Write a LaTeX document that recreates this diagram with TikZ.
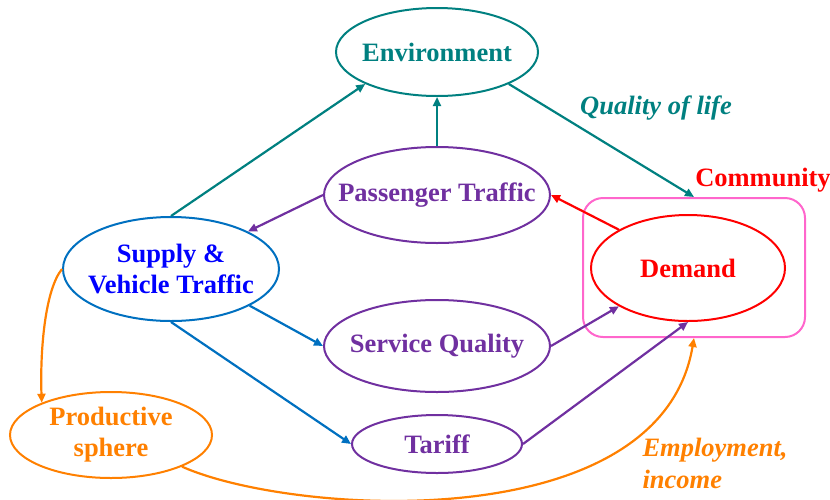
\documentclass[tikz,border=0pt]{standalone}
\usepackage{fontspec}
\setmainfont{Liberation Serif}
\usepackage{tikz}
\usetikzlibrary{shapes,arrows.meta}
\definecolor{envteal}{RGB}{0,128,128}
\definecolor{paxpurple}{RGB}{112,48,160}
\definecolor{supblue}{RGB}{0,112,192}
\definecolor{demred}{RGB}{255,0,0}
\definecolor{commpink}{RGB}{255,102,204}
\definecolor{prodorange}{RGB}{255,128,0}
\tikzstyle{bubble}=[ellipse, draw, line width=2pt, inner sep=0pt]
\tikzstyle{word}=[font=\fontsize{26.5}{31}\selectfont\bfseries, align=center, inner sep=0pt]
\tikzstyle{link}=[line width=2.2pt, -{Triangle[length=9pt,width=8pt]}]
\tikzstyle{tag}=[font=\fontsize{26.5}{32}\selectfont\bfseries\itshape, align=left]

\begin{document}
\begin{tikzpicture}[x=1pt,y=-1pt]
 \useasboundingbox (0,0) rectangle (830,499);
%
 \node[bubble, envteal, minimum width=202, minimum height=88,
  label={[word, envteal]center:Environment}] (env) at (437,52) {};
 \node[bubble, paxpurple, minimum width=226, minimum height=96,
  label={[word, paxpurple]center:Passenger Traffic}] (pax) at (437,195) {};
 \node[bubble, supblue, minimum width=216, minimum height=104,
  label={[word, blue]center:Supply \&\\Vehicle Traffic}] (sup) at (171,269) {};
 \node[bubble, paxpurple, minimum width=226, minimum height=92,
  label={[word, paxpurple]center:Service Quality}] (serv) at (437,346) {};
 \node[bubble, paxpurple, minimum width=170, minimum height=58,
  label={[word, paxpurple]center:Tariff}] (tar) at (437,444) {};
 \node[bubble, prodorange, minimum width=202, minimum height=86,
  label={[word, prodorange]center:Productive\\sphere}] (prod) at (111,435) {};
%
 \node[draw=commpink, line width=2pt, rounded corners=20pt, minimum width=222, minimum height=139] (comm) at (694,267.5) {};
 \node[bubble, demred, minimum width=194, minimum height=106,
  label={[word, demred]center:Demand}] (dem) at (688,268) {};
 \node[word, demred] (commlbl) at (763,180) {Community};
%
 \node[tag, envteal] (qol) at (656,108) {Quality of life};
 \node[tag, prodorange, anchor=west] (emp) at (639,463) {Employment,\\income};
%
 \draw[link, envteal] (sup.north) -- (env.204);
 \draw[link, envteal] (pax.north) -- (env.south);
 \draw[link, envteal] (env.336) -- (comm.north);
 \draw[link, demred] (dem.151) -- (pax.east);
 \draw[link, paxpurple] (pax.west) -- (sup.26);
 \draw[link, supblue] (sup.335) -- (serv.west);
 \draw[link, supblue] (sup.south) -- (tar.west);
 \draw[link, paxpurple] (serv.east) -- (dem.209);
 \draw[link, paxpurple] (tar.east) -- (dem.south);
%
 \draw[link, prodorange] (sup.west) .. controls (45,290) and (40,350) .. (prod.155);
 \draw[link, prodorange] (prod.336) .. controls (290,515) and (660,540) .. (comm.south);
\end{tikzpicture}
\end{document}
